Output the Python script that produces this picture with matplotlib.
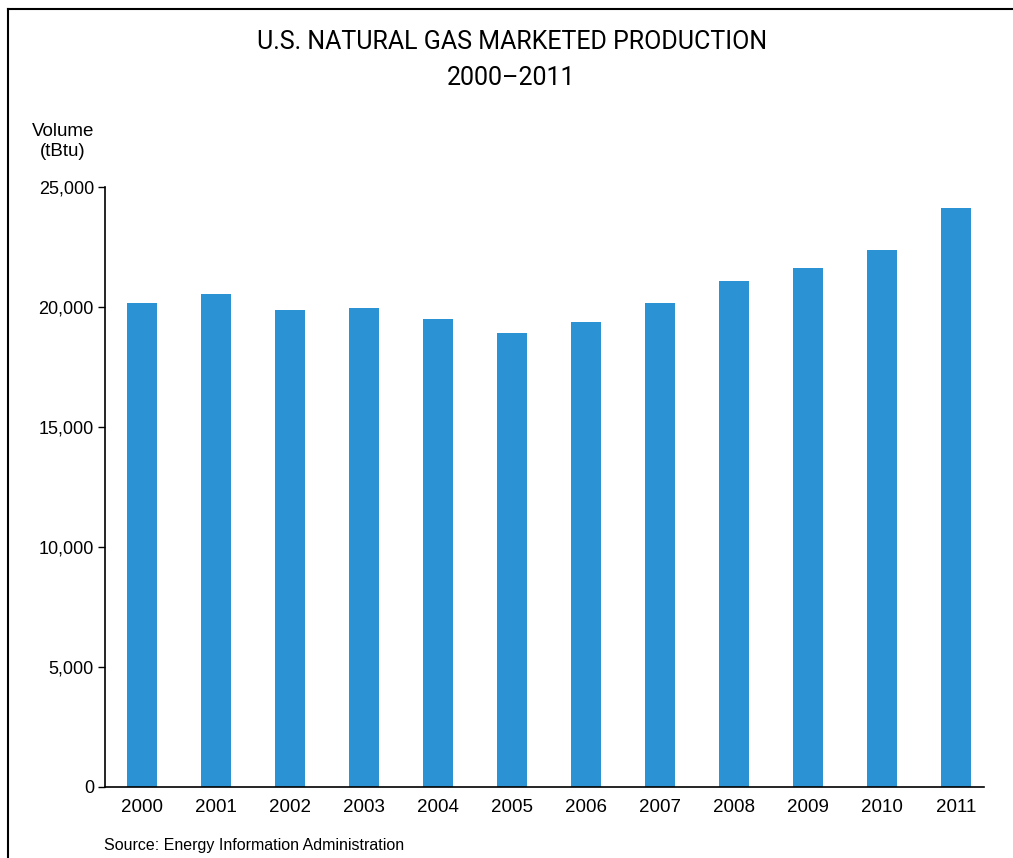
import numpy as np
import matplotlib
matplotlib.use('Agg')
import matplotlib.pyplot as plt
from matplotlib.ticker import FuncFormatter
from matplotlib.lines import Line2D

plt.rcParams['font.family'] = ['Liberation Sans', 'DejaVu Sans']

# data (tBtu)
years = ['2000', '2001', '2002', '2003', '2004', '2005',
         '2006', '2007', '2008', '2009', '2010', '2011']
volume = [20170, 20540, 19880, 19960, 19500, 18930,
          19380, 20170, 21080, 21620, 22380, 24130]
yticks = [0, 5000, 10000, 15000, 20000, 25000]

fig = plt.figure(figsize=(10.13, 8.58), dpi=100)
ax = fig.add_axes([0.1037, 0.0828, 0.8677, 0.6992])

x = np.arange(len(years))
ax.bar(x, volume, width=0.41, color='#2b92d4')

ax.set_xlim(-0.5, 11.38)
ax.set_ylim(0, 25000)
ax.set_yticks(yticks)
ax.yaxis.set_major_formatter(FuncFormatter(lambda v, p: '{:,.0f}'.format(v)))
ax.set_xticks(x)
ax.set_xticklabels(years)
ax.tick_params(axis='y', length=5, width=1, labelsize=13, pad=3)
ax.tick_params(axis='x', length=0, labelsize=13.5, pad=9)
for s in ['top', 'right']:
    ax.spines[s].set_visible(False)
ax.spines['left'].set_linewidth(1.2)
ax.spines['bottom'].set_linewidth(1.2)

fig.text(0.505, 0.951, 'U.S. NATURAL GAS MARKETED PRODUCTION',
         ha='center', va='center', fontsize=18, family=['Roboto', 'DejaVu Sans'])
fig.text(0.505, 0.909, '2000\u20132011', ha='center', va='center', fontsize=18,
         family=['Roboto', 'DejaVu Sans'])
fig.text(0.062, 0.835, 'Volume\n(tBtu)', ha='center', va='center',
         fontsize=13.5, linespacing=1.25)
fig.text(0.103, 0.014, 'Source: Energy Information Administration',
         ha='left', va='center', fontsize=11.5)

# frame on left and top edge
fig.add_artist(Line2D([0.0079, 0.0079], [0, 0.9895], color='black', lw=1.5,
                      transform=fig.transFigure))
fig.add_artist(Line2D([0.0079, 1.0], [0.9895, 0.9895], color='black', lw=1.5,
                      transform=fig.transFigure))

fig.savefig('out.png', dpi=100)
